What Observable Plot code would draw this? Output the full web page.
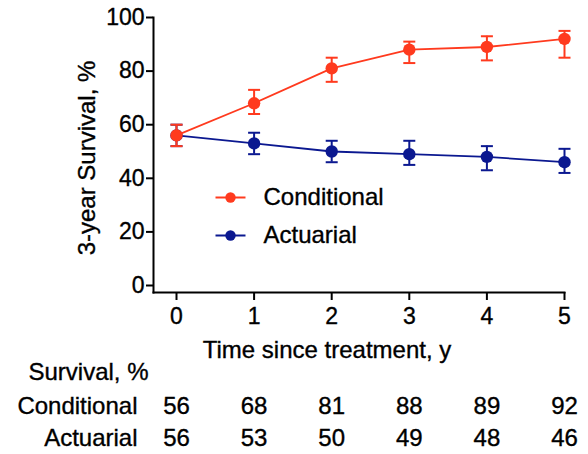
<!DOCTYPE html>
<html>
<head>
<meta charset="utf-8">
<script src="https://cdn.jsdelivr.net/npm/d3@7"></script>
<script src="https://cdn.jsdelivr.net/npm/@observablehq/plot@0.6"></script>
<style>
  html, body { margin: 0; padding: 0; background: #fff; }
  #chart { width: 588px; height: 454px; }
  #chart svg text { stroke: black; stroke-width: 0.35px; }
</style>
</head>
<body>
<div id="chart"></div>
<script>
// ---- data ----
const years = [0, 1, 2, 3, 4, 5];
const conditional = [56, 68, 81, 88, 89, 92];
const conditionalLow = [52, 64, 76, 83, 84, 85];
const conditionalHigh = [60, 73, 85, 91, 93, 95];
const actuarial = [56, 53, 50, 49, 48, 46];
const actuarialLow = [52, 49, 46, 45, 43, 42];
const actuarialHigh = [60, 57, 54, 54, 52, 51];
const seriesNames = ["Conditional", "Actuarial"];
const seriesColors = ["#ff3a1e", "#0b1890"];
const yTicks = [0, 20, 40, 60, 80, 100];
const xTicks = [0, 1, 2, 3, 4, 5];
const yLabel = "3-year Survival, %";
const xLabel = "Time since treatment, y";
const tableTitle = "Survival, %";

// ---- build tables ----
const series = [
  {name: seriesNames[0], color: seriesColors[0], vals: conditional, lo: conditionalLow, hi: conditionalHigh},
  {name: seriesNames[1], color: seriesColors[1], vals: actuarial, lo: actuarialLow, hi: actuarialHigh}
];
const rowsOf = s => years.map((t, i) => ({year: t, value: s.vals[i], low: s.lo[i], high: s.hi[i], series: s.name}));

const capSymbol = {
  draw(ctx, size) {
    const w = Math.sqrt(size / Math.PI);
    ctx.moveTo(-w, 0);
    ctx.lineTo(w, 0);
  }
};
const lineSymbol = capSymbol;

const FONT = "Liberation Sans, Arial, Helvetica, sans-serif";

// series marks: actuarial drawn first so conditional sits on top
const seriesMarks = [series[1], series[0]].flatMap(s => {
  const rows = rowsOf(s);
  return [
    Plot.ruleX(rows, {x: "year", y1: "low", y2: "high", stroke: s.color, strokeWidth: 2}),
    Plot.dot(rows, {x: "year", y: "low", symbol: capSymbol, r: 6, fill: "none", stroke: s.color, strokeWidth: 2}),
    Plot.dot(rows, {x: "year", y: "high", symbol: capSymbol, r: 6, fill: "none", stroke: s.color, strokeWidth: 2}),
    Plot.line(rows, {x: "year", y: "value", stroke: s.color, strokeWidth: 1.8}),
    Plot.dot(rows, {x: "year", y: "value", r: 6.2, fill: s.color, stroke: "none"})
  ];
});

// legend (inside plot area)
const legendMarks = series.flatMap((s, i) => {
  const dy = 180 + i * 38;
  return [
    Plot.dot([s.name], {frameAnchor: "top-left", dx: 77, dy, symbol: lineSymbol, r: 15, fill: "none", stroke: s.color, strokeWidth: 2}),
    Plot.dot([s.name], {frameAnchor: "top-left", dx: 77, dy, r: 5.2, fill: s.color, stroke: "none"}),
    Plot.text([s.name], {frameAnchor: "top-left", dx: 110, dy, text: d => d, textAnchor: "start", lineAnchor: "middle", fontSize: 24, fill: "black"})
  ];
});

// table below the axis
const tableMarks = series.flatMap((s, i) => {
  const dy = 114 + i * 32;
  const rows = rowsOf(s);
  return [
    Plot.text([s.name], {frameAnchor: "bottom-left", dx: -16, dy, text: d => d, textAnchor: "end", lineAnchor: "middle", fontSize: 24, fill: "black"}),
    Plot.text(rows, {x: "year", frameAnchor: "bottom", dy, text: d => String(d.value), textAnchor: "middle", lineAnchor: "middle", fontSize: 24, fill: "black"})
  ];
});

const chart = Plot.plot({
  width: 588,
  height: 454,
  marginTop: 17,
  marginLeft: 153,
  marginRight: 24,
  marginBottom: 162,
  insetLeft: 23,
  insetBottom: 7,
  style: {fontFamily: FONT, fontSize: "23px", color: "black", background: "white", overflow: "visible"},
  x: {domain: [0, 5]},
  y: {domain: [0, 100]},
  marks: [
    Plot.frame({anchor: "left", strokeWidth: 2, stroke: "black"}),
    Plot.frame({anchor: "bottom", strokeWidth: 2, stroke: "black"}),
    Plot.axisY({ticks: yTicks, tickSize: 7, tickPadding: 2, tickFormat: "d", label: null, strokeWidth: 2, fontSize: 23}),
    Plot.axisX({ticks: xTicks, tickSize: 8, tickPadding: 7, tickFormat: "d", label: null, strokeWidth: 2, fontSize: 23}),
    Plot.text([yLabel], {frameAnchor: "left", dx: -66, dy: 3, rotate: -90, text: d => d, textAnchor: "middle", lineAnchor: "middle", fontSize: 24, fill: "black"}),
    Plot.text([xLabel], {frameAnchor: "bottom", dx: -32, dy: 58, text: d => d, textAnchor: "middle", lineAnchor: "middle", fontSize: 24, fill: "black"}),
    Plot.text([tableTitle], {frameAnchor: "bottom-left", dx: -5, dy: 80, text: d => d, textAnchor: "end", lineAnchor: "middle", fontSize: 24, fill: "black"}),
    ...seriesMarks,
    ...legendMarks,
    ...tableMarks
  ]
});
document.getElementById("chart").appendChild(chart);
</script>
</body>
</html>
